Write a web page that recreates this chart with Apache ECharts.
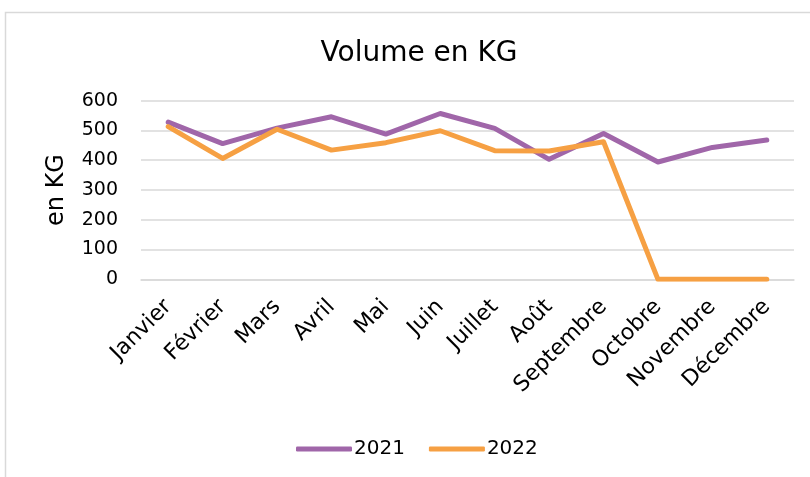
<!DOCTYPE html>
<html><head><meta charset="utf-8">
<script src="https://cdn.jsdelivr.net/npm/echarts@6/dist/echarts.min.js"></script>
<style>html,body{margin:0;padding:0;background:#fff}#c{width:810px;height:477px}</style>
</head><body><div id="c"></div>
<script>
const categories = ['Janvier','Février','Mars','Avril','Mai','Juin','Juillet','Août','Septembre','Octobre','Novembre','Décembre'];
const values2021 = [528, 456, 508, 546, 488, 557, 507, 403, 490, 394, 443, 468];
const values2022 = [513, 406, 504, 434, 459, 499, 432, 431, 462, 0, 0, 0];
const yTicks = [0, 100, 200, 300, 400, 500, 600];
const FONT = '"DejaVu Sans", sans-serif';
const chart = echarts.init(document.getElementById('c'));
chart.setOption({
  animation: false,
  textStyle: {fontFamily: FONT, color: '#000'},
  graphic: [{type:'rect', shape:{x:5.5, y:12.5, width:830, height:500}, style:{fill:'none', stroke:'#D9D9D9', lineWidth:1.5}, silent:true}],
  title: {text:'Volume en KG', left: 414, textAlign:'center', top: 35,
    textStyle:{fontFamily:FONT, fontSize:28, fontWeight:'normal', color:'#000'}},
  grid: {left:141, right:16, top:100.7, bottom:197.7},
  legend: {bottom: 13, left: 291, itemWidth:56, itemHeight:5, itemGap:24,
    icon:'roundRect',
    textStyle:{fontFamily:FONT, fontSize:20, color:'#000', padding:[0,0,0,-3]},
    data:['2021','2022']},
  xAxis: {type:'category', data:categories, boundaryGap:true,
    axisLine:{lineStyle:{color:'#D9D9D9', width:1.5}}, axisTick:{show:false},
    axisLabel:{rotate:45, interval:0, margin:24, fontSize:22, fontFamily:FONT, color:'#000'}},
  yAxis: {type:'value', min:yTicks[0], max:yTicks[yTicks.length-1], interval:100,
    name:'en KG', nameLocation:'middle', nameGap:72, nameRotate:90,
    nameTextStyle:{fontFamily:FONT, fontSize:24, color:'#000'},
    axisLine:{show:false}, axisTick:{show:false},
    axisLabel:{margin:23, fontSize:19, fontFamily:FONT, color:'#000'},
    splitLine:{lineStyle:{color:'#D9D9D9', width:1.5}}},
  series: [
    {name:'2021', type:'line', data:values2021, symbol:'none', color:'#A066A9',
      lineStyle:{width:5, color:'#A066A9', cap:'round', join:'round'}},
    {name:'2022', type:'line', data:values2022, symbol:'none', color:'#F6A043',
      lineStyle:{width:5, color:'#F6A043', cap:'round', join:'round'}}
  ]
});
</script></body></html>
